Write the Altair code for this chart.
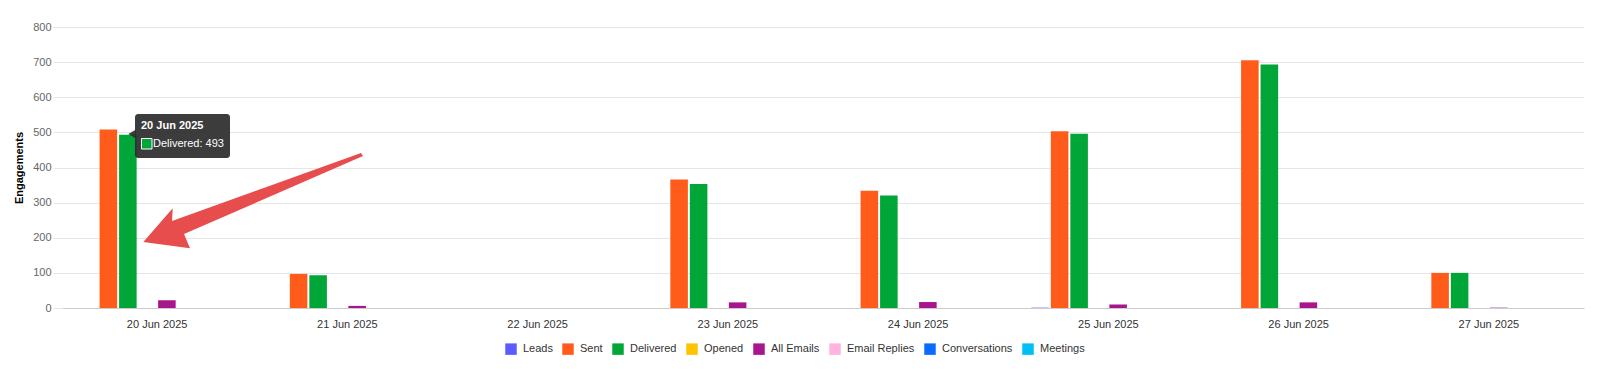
import altair as alt
import pandas as pd

dates = ["20 Jun 2025", "21 Jun 2025", "22 Jun 2025", "23 Jun 2025",
         "24 Jun 2025", "25 Jun 2025", "26 Jun 2025", "27 Jun 2025"]
series = ["Leads", "Sent", "Delivered", "Opened", "All Emails",
          "Email Replies", "Conversations", "Meetings"]
colors = ["#5b5bff", "#ff5c1c", "#00a637", "#ffc300", "#a7158f",
          "#ffb3de", "#0a6cff", "#00bff3"]

leads = [0, 0, 0, 0, 0, 1, 0, 0]
sent = [508, 97, 0, 366, 334, 503, 705, 100]
delivered = [493, 93, 0, 353, 320, 496, 693, 100]
opened = [0, 0, 0, 0, 0, 0, 0, 0]
all_emails = [22, 6, 0, 16, 17, 10, 16, 1]
email_replies = [0, 0, 0, 0, 0, 0, 0, 0]
conversations = [0, 0, 0, 0, 0, 0, 0, 0]
meetings = [0, 0, 0, 0, 0, 0, 0, 0]

y_ticks = [0, 100, 200, 300, 400, 500, 600, 700, 800]

values = [leads, sent, delivered, opened, all_emails, email_replies,
          conversations, meetings]
rows = []
for s, vals in zip(series, values):
    for d, v in zip(dates, vals):
        rows.append({"date": d, "series": s, "value": v})
df = pd.DataFrame(rows)

FONT = "Liberation Sans"

bars = alt.Chart(df).mark_bar().encode(
    x=alt.X("date:N", sort=dates,
            scale=alt.Scale(paddingInner=0.19, paddingOuter=0.095),
            axis=alt.Axis(title=None, labelAngle=0, ticks=False, labelPadding=10,
                          labelColor="#333333", labelFontSize=11,
                          domainColor="#cccccc", grid=False)),
    xOffset=alt.XOffset("series:N", sort=series,
                        scale=alt.Scale(paddingInner=0.1, paddingOuter=0.0)),
    y=alt.Y("value:Q", scale=alt.Scale(domain=[0, 800], nice=False),
            axis=alt.Axis(title="Engagements", values=y_ticks, grid=True,
                          gridColor="#e6e6e6", domain=False, tickColor="#e6e6e6",
                          tickSize=9, labelPadding=2, labelColor="#666666",
                          labelFontSize=11, titleFontSize=11, titleFontWeight="bold",
                          titleColor="#000000", titlePadding=8)),
    color=alt.Color("series:N", sort=series,
                    scale=alt.Scale(domain=series, range=colors),
                    legend=alt.Legend(title=None, orient="none", legendX=443, legendY=316,
                                      direction="horizontal", columns=8,
                                      symbolType="square", symbolSize=132,
                                      symbolStrokeWidth=0, labelFontSize=11,
                                      labelColor="#333333", labelOffset=6,
                                      columnPadding=9, padding=0)),
)

one = pd.DataFrame({"k": [0]})

# tooltip box (hover state in the reference)
tip_box = alt.Chart(one).mark_rect(color="#2b2b2b", cornerRadius=3, opacity=0.92).encode(
    x=alt.value(73), x2=alt.value(168), y=alt.value(87), y2=alt.value(131))
tip_ptr = alt.Chart(one).mark_point(shape="triangle-left", filled=True, color="#2b2b2b",
                                    size=70, opacity=0.92, strokeWidth=0).encode(
    x=alt.value(70), y=alt.value(107))
tip_title = alt.Chart(one).mark_text(text="20 Jun 2025", font=FONT, fontSize=11,
                                     fontWeight="bold", color="white", align="left",
                                     baseline="middle").encode(
    x=alt.value(79), y=alt.value(98.5))
tip_swatch = alt.Chart(one).mark_rect(color="#00a637", stroke="white", strokeWidth=1).encode(
    x=alt.value(79.5), x2=alt.value(90), y=alt.value(111.5), y2=alt.value(122))
tip_text = alt.Chart(one).mark_text(text="Delivered: 493", font=FONT, fontSize=11,
                                    color="white", align="left",
                                    baseline="middle").encode(
    x=alt.value(91), y=alt.value(116.5))

# red annotation arrow
arrow_path = ("M0.982,-0.434 L-0.736,0.185 L-0.730,0.069 L-0.997,0.375 "
              "L-0.573,0.433 L-0.627,0.303 L1.0,-0.406 Z")
arrow = alt.Chart(one).mark_point(shape=arrow_path, filled=True, color="#e84d4d",
                                  size=48400, opacity=1, strokeWidth=0).encode(
    x=alt.value(191), y=alt.value(173.7))

chart = alt.layer(bars, tip_box, tip_ptr, tip_title, tip_swatch, tip_text, arrow).properties(
    width=1522, height=281,
    autosize=alt.AutoSizeParams(type="none"),
    padding={"left": 54, "top": 19, "right": 8, "bottom": 53},
).configure(font=FONT).configure_view(stroke=None)

chart.save("out.html", embed_options={"renderer": "svg", "actions": False})
